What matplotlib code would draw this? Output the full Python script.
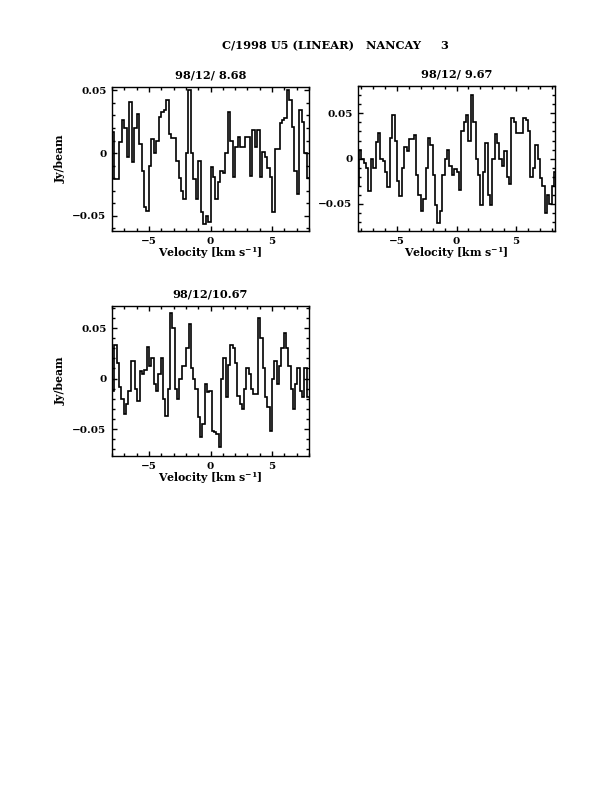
import matplotlib
matplotlib.use("Agg")
import matplotlib.pyplot as plt
from matplotlib.ticker import MultipleLocator, FuncFormatter

plt.rcParams['font.family'] = ['DejaVu Serif']
plt.rcParams['font.weight'] = 'bold'
plt.rcParams['axes.titleweight'] = 'bold'
plt.rcParams['axes.labelweight'] = 'bold'
plt.rcParams['mathtext.default'] = 'regular'

title = "C/1998 U5 (LINEAR)   NANCAY     3"
dates = ["98/12/ 8.68", "98/12/ 9.67", "98/12/10.67"]

# first channel edge and channel width (km/s), like a spectrum header
v0_1, dv_1 = -8.0, 0.2
v0_2, dv_2 = -8.4, 0.2
v0_3, dv_3 = -8.0, 16.0 / 85

# flux per channel (Jy/beam)
flux1 = [0.017, -0.021, -0.021, 0.009, 0.026, 0.02, -0.003, 0.041, -0.007, 0.02,
         0.031, 0.007, -0.014, -0.043, -0.046, -0.01, 0.011, 0.0, 0.01, 0.029,
         0.033, 0.034, 0.042, 0.015, 0.012, 0.012, -0.006, -0.02, -0.03, -0.037,
         0.0, 0.05, 0.0, -0.021, -0.037, -0.006, -0.047, -0.057, -0.05, -0.055,
         -0.011, -0.019, -0.037, -0.023, -0.014, -0.016, 0.0, 0.033, 0.01, -0.019,
         0.005, 0.013, 0.005, 0.005, 0.013, 0.013, -0.018, 0.018, 0.005, 0.018,
         -0.019, 0.001, -0.003, -0.012, -0.019, -0.047, 0.003, 0.003, 0.024, 0.026,
         0.028, 0.05, 0.042, 0.021, -0.014, -0.033, 0.034, 0.025, 0.0, -0.02]

flux2 = [-0.03, 0.01, 0.0, -0.005, -0.01, -0.036, 0.0, -0.01, 0.018, 0.028,
         0.0, -0.003, -0.015, -0.032, 0.023, 0.048, 0.02, -0.025, -0.042, -0.01,
         0.013, 0.008, 0.022, 0.022, 0.026, -0.018, -0.04, -0.058, -0.045, -0.011,
         0.023, 0.015, -0.018, -0.052, -0.072, -0.058, -0.018, 0.0, 0.01, -0.008,
         -0.018, -0.012, -0.015, -0.035, 0.03, 0.04, 0.048, 0.02, 0.07, 0.04,
         0.0, -0.018, -0.052, -0.015, 0.017, -0.04, -0.052, 0.0, 0.027, 0.017,
         0.0, -0.008, 0.008, -0.02, -0.028, 0.045, 0.04, 0.028, 0.028, 0.028,
         0.045, 0.043, 0.03, -0.02, -0.01, 0.015, 0.0, -0.022, -0.03, -0.06,
         -0.04, -0.05, -0.03, -0.015]

flux3 = [-0.012, 0.033, 0.015, -0.008, -0.02, -0.035, -0.025, -0.012, 0.017, 0.017,
         -0.01, -0.022, 0.007, 0.005, 0.008, 0.031, 0.012, 0.02, -0.005, -0.012,
         0.005, 0.02, -0.02, -0.037, -0.01, 0.065, 0.05, -0.01, -0.02, 0.0,
         0.012, 0.012, 0.03, 0.054, 0.01, 0.0, -0.01, -0.038, -0.058, -0.045,
         -0.005, -0.013, -0.012, -0.052, -0.053, -0.055, -0.068, 0.0, 0.02, -0.018,
         0.013, 0.033, 0.03, 0.015, -0.017, -0.025, -0.03, -0.01, 0.01, 0.005,
         -0.01, -0.015, -0.015, 0.06, 0.04, 0.01, -0.018, -0.028, -0.052, 0.0,
         0.017, -0.005, 0.012, 0.03, 0.045, 0.03, 0.012, -0.01, -0.03, -0.005,
         0.01, -0.012, -0.018, 0.01, -0.018]

xlims = [(-8.0, 8.0), (-8.27, 8.27), (-8.0, 8.0)]
ylims = [(-0.0623, 0.0527), (-0.0805, 0.0805), (-0.0767, 0.0718)]

# axes boxes in figure fraction [left, bottom, width, height]
boxes = [[0.183, 0.7083, 0.322, 0.1818],
         [0.585, 0.7083, 0.322, 0.1831],
         [0.183, 0.4242, 0.322, 0.1894]]


def ylab(val, pos):
    if abs(val) < 1e-9:
        return "0"
    return ("%.2f" % val).replace("-", "\u2212")


fig = plt.figure(figsize=(6.12, 7.92), dpi=100)
fig.text(0.548, 0.942, title, ha='center', va='center', fontsize=8.2)

spectra = [(v0_1, dv_1, flux1), (v0_2, dv_2, flux2), (v0_3, dv_3, flux3)]

for k, (v0, dv, flux) in enumerate(spectra):
    ax = fig.add_axes(boxes[k])
    edges = [v0 + dv * i for i in range(len(flux) + 1)]
    ax.stairs(flux, edges, baseline=None, color='black', lw=1.2)
    ax.set_xlim(*xlims[k])
    ax.set_ylim(*ylims[k])
    ax.xaxis.set_major_locator(MultipleLocator(5))
    ax.xaxis.set_minor_locator(MultipleLocator(1))
    ax.yaxis.set_major_locator(MultipleLocator(0.05))
    ax.yaxis.set_minor_locator(MultipleLocator(0.01))
    ax.yaxis.set_major_formatter(FuncFormatter(ylab))
    ax.xaxis.set_major_formatter(FuncFormatter(lambda v, p: ("%d" % v).replace("-", "\u2212")))
    ax.tick_params(which='both', direction='in', top=True, right=True,
                   labelsize=7.5, width=1.0)
    ax.tick_params(which='major', length=3.5, pad=4)
    ax.tick_params(which='minor', length=2)
    for s in ax.spines.values():
        s.set_linewidth(1.0)
    ax.set_title(dates[k], fontsize=8.2, pad=6)
    ax.set_xlabel("Velocity [km s$^{-1}$]", fontsize=7.8, labelpad=0)
    if k != 1:
        ax.set_ylabel("Jy/beam", fontsize=7.8, labelpad=5)

fig.savefig("out.png", dpi=100)
